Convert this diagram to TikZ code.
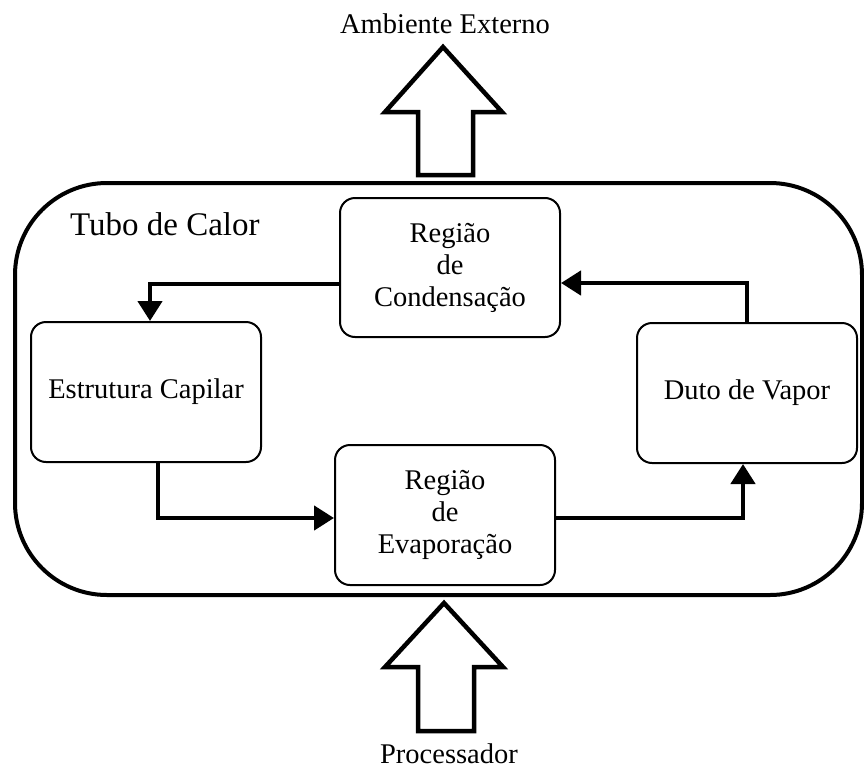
\documentclass[tikz,border=0pt]{standalone}
\usepackage{fontspec}
\setmainfont{Liberation Serif}
\usetikzlibrary{arrows.meta}
\begin{document}
\begin{tikzpicture}[x=1pt,y=-1pt,
  box/.style={draw, line width=2pt, rounded corners=15pt, inner sep=0pt,
    align=center, font=\fontsize{28.5}{32}\selectfont},
  flow/.style={line width=4.5pt, -{Triangle[length=20pt,width=24pt]}},
  heat/.style={draw, line width=4.5pt, line join=miter, fill=white},
  lbl/.style={font=\fontsize{28.5}{32}\selectfont, inner sep=0pt}]
\useasboundingbox (0,0) rectangle (864,771);

% heat pipe envelope
\draw[line width=4pt, rounded corners=92pt] (15,183) rectangle (862,595);
\node[lbl, font=\fontsize{33}{36}\selectfont, anchor=base west] (tubo) at (70,235) {Tubo de Calor};

% internal regions
\node[box, minimum width=220pt, minimum height=139pt] (cond) at (450,267.5) {Região\\de\\Condensação};
\node[box, minimum width=230pt, minimum height=140pt] (estr) at (146,392) {Estrutura Capilar};
\node[box, minimum width=220pt, minimum height=140pt] (duto) at (747,393) {Duto de Vapor};
\node[box, minimum width=220pt, minimum height=140pt] (evap) at (445,515) {Região\\de\\Evaporação};

% working fluid cycle
\draw[flow] ([yshift=-16.5pt]cond.west) -| ([xshift=4pt]estr.north);
\draw[flow] ([xshift=12pt]estr.south) |- ([yshift=-3pt]evap.west);
\draw[flow] ([yshift=-3pt]evap.east) -| ([xshift=-4pt]duto.south);
\draw[flow] (duto.north) |- ([yshift=-15.5pt]cond.east);

% heat flow: processor -> pipe -> environment
\draw[heat] (443,47) -- (502,112) -- (473,112) -- (473,175) -- (418,175)
  -- (418,112) -- (385,112) -- cycle;
\draw[heat] (444,603) -- (503,667) -- (474,667) -- (474,731) -- (418,731)
  -- (418,667) -- (385,667) -- cycle;
\node[lbl, anchor=base] (amb) at (445,33) {Ambiente Externo};
\node[lbl, anchor=base] (proc) at (449,763) {Processador};
\end{tikzpicture}
\end{document}
